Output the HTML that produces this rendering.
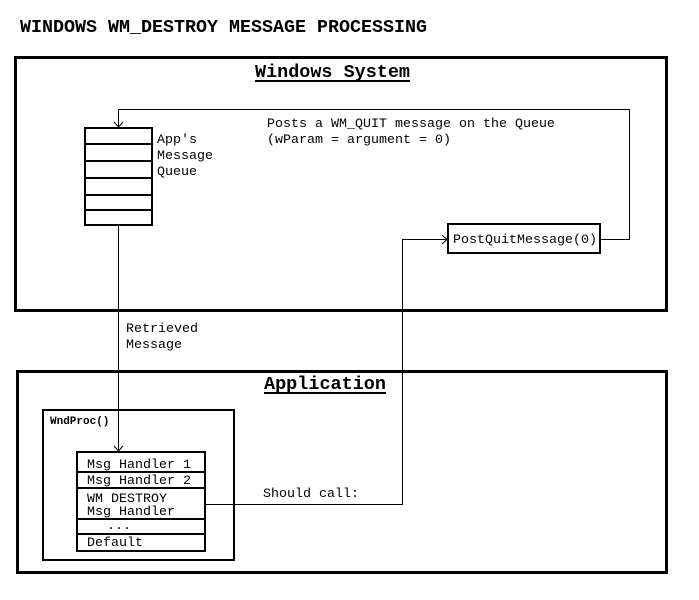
<!DOCTYPE html>
<html><head><meta charset="utf-8"><style>
html,body{margin:0;padding:0;background:#fff;}
svg{display:block;}
text{font-family:"Liberation Mono",monospace;fill:#000;}
</style></head><body>
<svg width="699" height="600" viewBox="0 0 699 600" xmlns="http://www.w3.org/2000/svg">
<rect width="699" height="600" fill="#fff"/>
<text x="20" y="32" font-size="18.3" font-weight="bold" textLength="407" lengthAdjust="spacingAndGlyphs">WINDOWS WM_DESTROY MESSAGE PROCESSING</text>

<rect x="15.5" y="57.5" width="651" height="253" fill="none" stroke="#000" stroke-width="3"/>
<text x="255" y="77" font-size="18" font-weight="bold" textLength="155" lengthAdjust="spacingAndGlyphs">Windows System</text>
<line x1="255" y1="81" x2="410" y2="81" stroke="#000" stroke-width="2"/>

<rect x="85" y="128" width="67" height="97" fill="none" stroke="#000" stroke-width="2"/>
<g stroke="#000" stroke-width="2">
<line x1="85" y1="144" x2="152" y2="144"/>
<line x1="85" y1="161" x2="152" y2="161"/>
<line x1="85" y1="178" x2="152" y2="178"/>
<line x1="85" y1="195" x2="152" y2="195"/>
<line x1="85" y1="210" x2="152" y2="210"/>
</g>
<g font-size="13.33">
<text x="157" y="143">App's</text>
<text x="157" y="159">Message</text>
<text x="157" y="175">Queue</text>
<text x="267" y="127">Posts a WM_QUIT message on the Queue</text>
<text x="267" y="143">(wParam = argument = 0)</text>
<text x="126" y="332">Retrieved</text>
<text x="126" y="348">Message</text>
<text x="263" y="497">Should call:</text>
</g>

<rect x="448" y="224" width="152" height="29" fill="none" stroke="#000" stroke-width="2"/>
<text x="453" y="243" font-size="13.33">PostQuitMessage(0)</text>

<g fill="none" stroke="#000" stroke-width="1">
<polyline points="601,239.5 629.5,239.5 629.5,109.5 118.5,109.5 118.5,127"/>
<polyline points="114,122 118.5,127 123,122"/>
<polyline points="118.5,225 118.5,451"/>
<polyline points="114,446 118.5,451 123,446"/>
<polyline points="205,504.5 402.5,504.5 402.5,239.5 447,239.5"/>
<polyline points="442,235 447,239.5 442,244"/>
</g>

<rect x="17.5" y="371.5" width="649" height="201" fill="none" stroke="#000" stroke-width="3"/>
<text x="264" y="389" font-size="18" font-weight="bold" textLength="122" lengthAdjust="spacingAndGlyphs">Application</text>
<line x1="264" y1="393" x2="386" y2="393" stroke="#000" stroke-width="2"/>

<rect x="43" y="410" width="191" height="150" fill="none" stroke="#000" stroke-width="2"/>
<text x="50" y="424" font-size="11" font-weight="bold">WndProc()</text>

<rect x="77" y="452" width="128" height="99" fill="none" stroke="#000" stroke-width="2"/>
<g stroke="#000" stroke-width="2">
<line x1="77" y1="472" x2="205" y2="472"/>
<line x1="77" y1="488" x2="205" y2="488"/>
<line x1="77" y1="519" x2="205" y2="519"/>
<line x1="77" y1="534" x2="205" y2="534"/>
</g>
<g font-size="13.33">
<text x="87" y="468">Msg Handler 1</text>
<text x="87" y="484">Msg Handler 2</text>
<text x="87" y="502">WM DESTROY</text>
<text x="87" y="515">Msg Handler</text>
<text x="107" y="529">...</text>
<text x="87" y="546">Default</text>
</g>
</svg>
</body></html>
